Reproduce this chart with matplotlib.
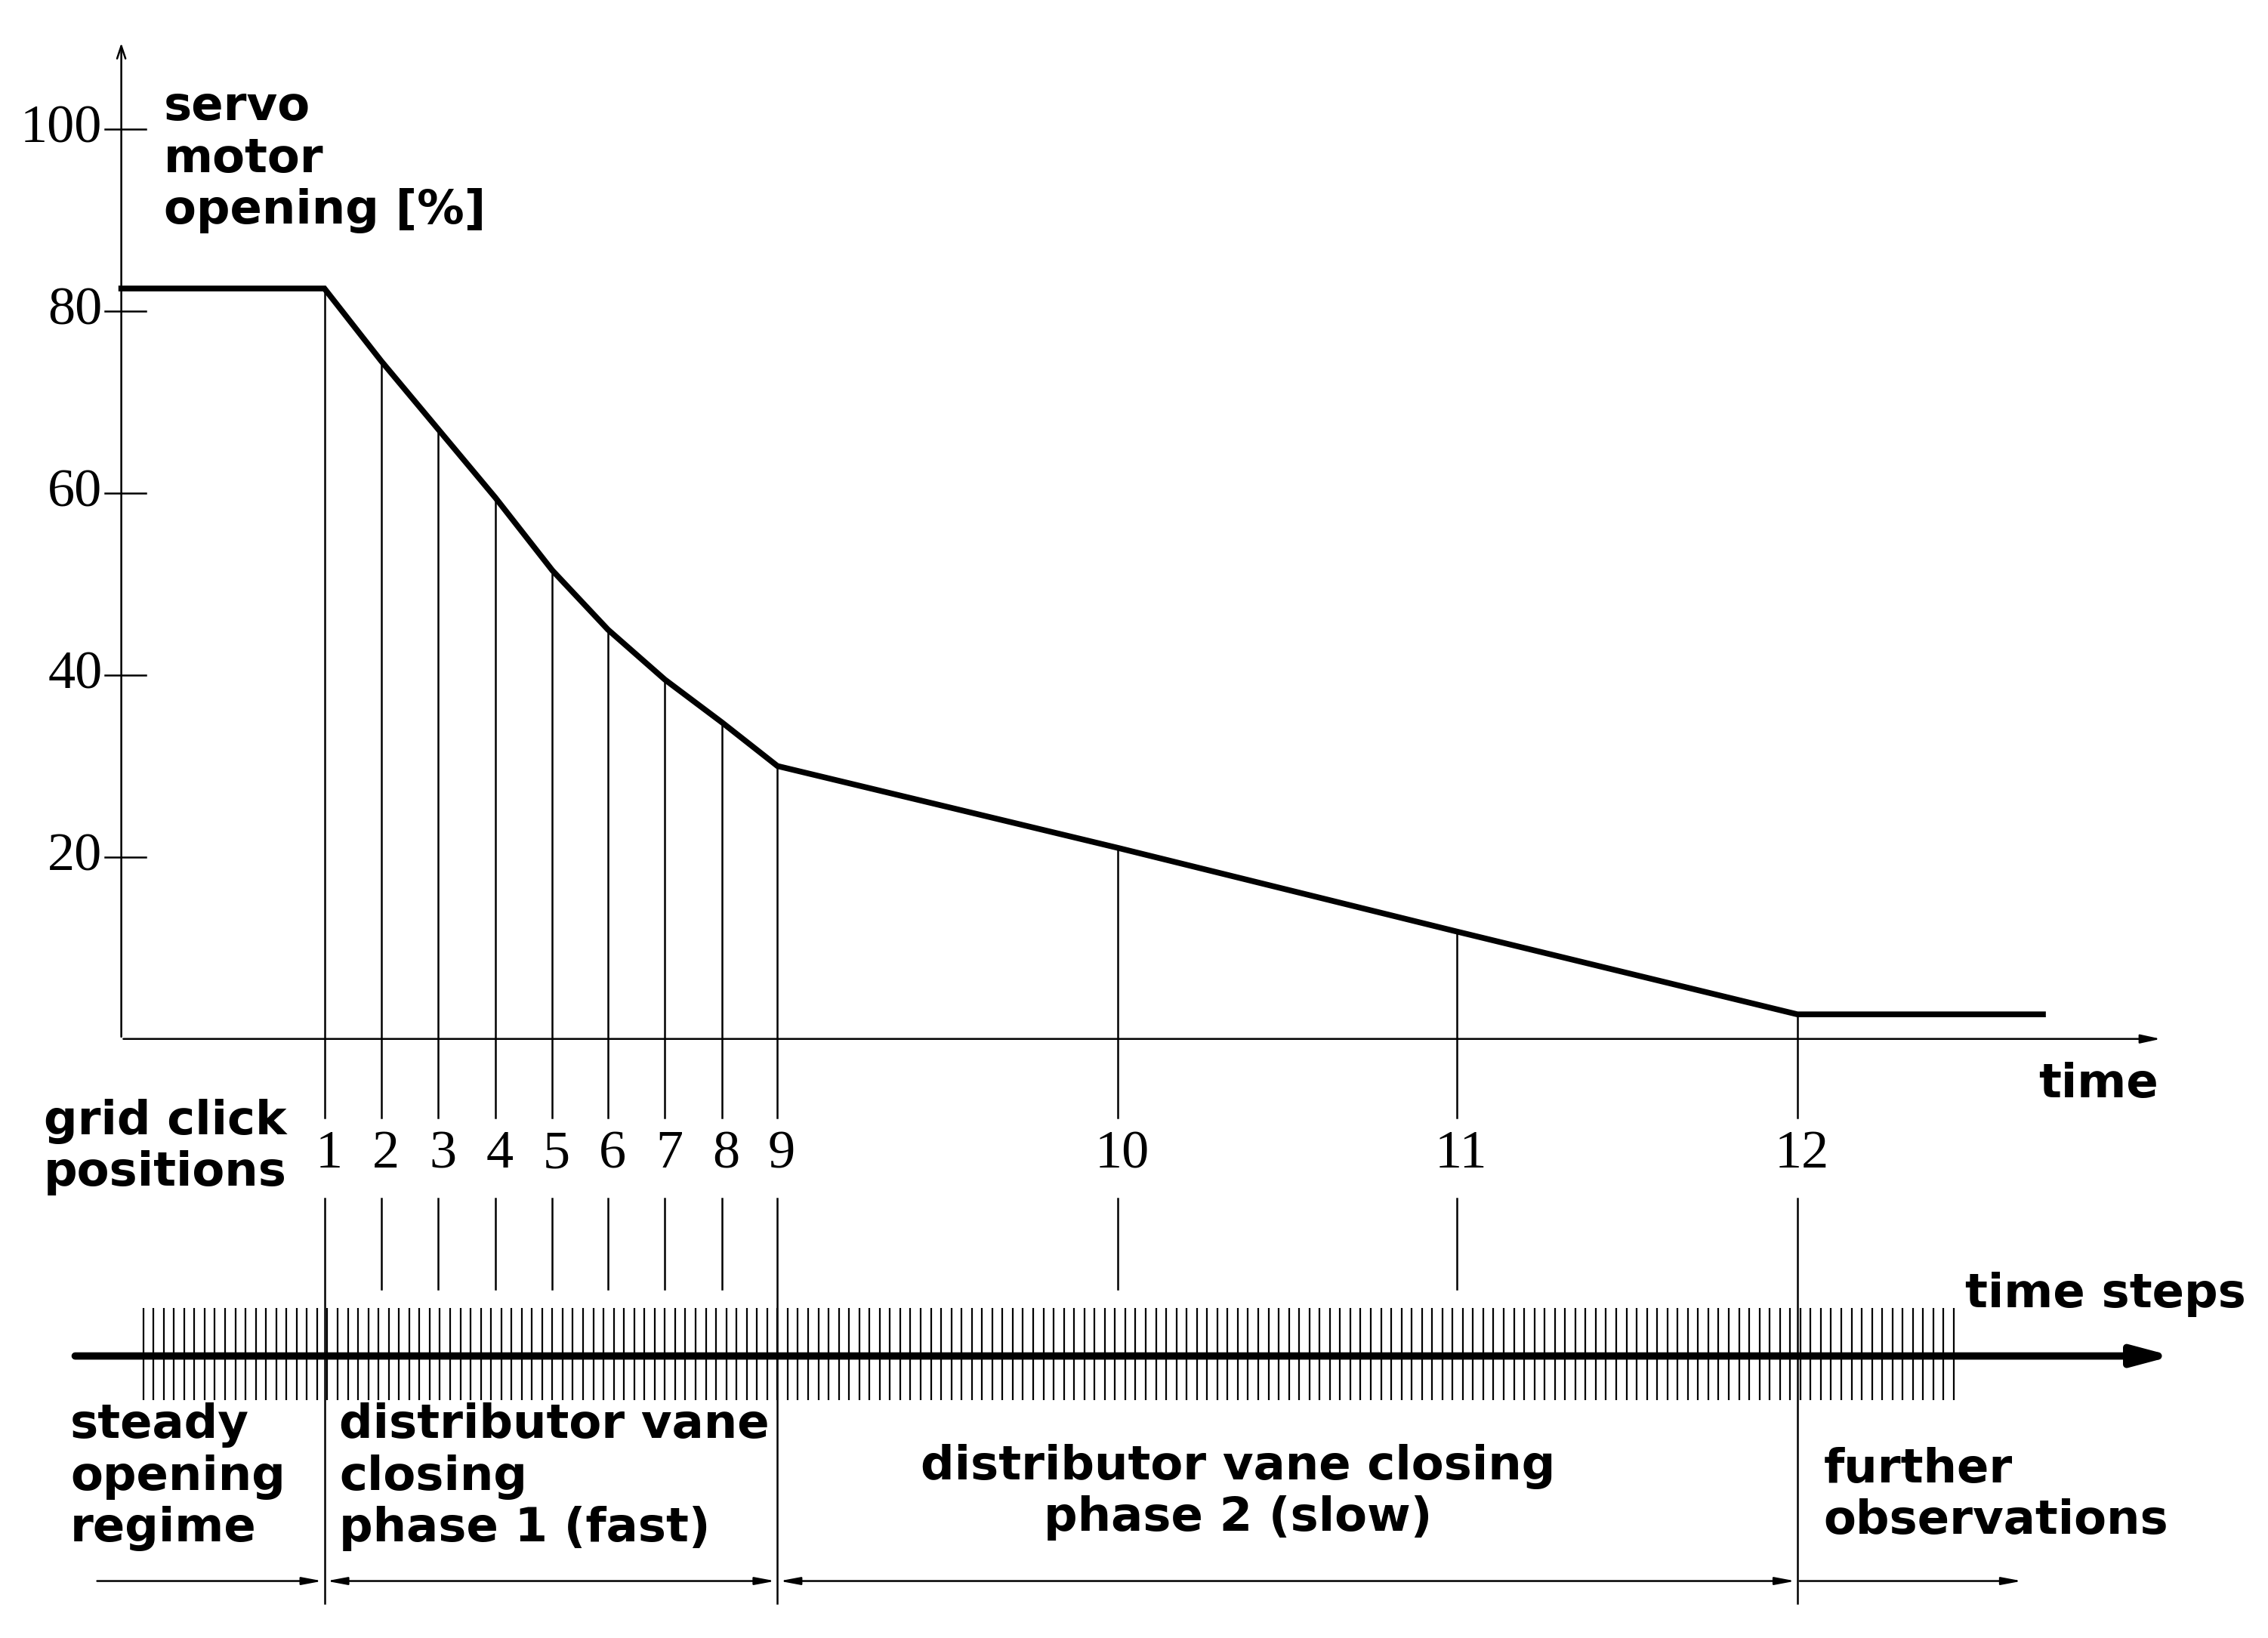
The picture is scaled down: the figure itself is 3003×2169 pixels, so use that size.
import matplotlib
matplotlib.use("Agg")
import matplotlib.pyplot as plt
import numpy as np

# curve: time (pixel-like units) vs servo opening [%]
curve_t = [83, 222, 261, 300, 339, 378, 416, 455, 494, 532, 765, 997, 1230, 1398]
curve_v = [82.5, 82.5, 74.5, 67.0, 59.5, 51.5, 45.0, 39.5, 34.8, 30.0, 21.0, 11.8, 2.7, 2.7]
click_labels = ["1", "2", "3", "4", "5", "6", "7", "8", "9", "10", "11", "12"]
yticks = [20, 40, 60, 80, 100]

SCALE = 6.225
Y0 = 711


def Y(py):
    """pixel row of the reference layout -> value units"""
    return (Y0 - py) / SCALE


fig = plt.figure(figsize=(30.03, 21.69), dpi=100)
ax = fig.add_axes([0, 0, 1, 1])
ax.set_xlim(0, 1552)
ax.set_ylim(Y(1121), Y(0))
ax.axis("off")

serif = "Liberation Serif"
sans = "DejaVu Sans"
lw_thin = 1.8

# axes
ax.annotate("", xy=(83, Y(28)), xytext=(83, 0),
            arrowprops=dict(arrowstyle="->,head_length=1.2,head_width=0.4", lw=lw_thin, color="black"))
ax.annotate("", xy=(1480, 0), xytext=(83, 0),
            arrowprops=dict(arrowstyle="-|>,head_length=1.6,head_width=0.35", lw=lw_thin, color="black"))
for v in yticks:
    ax.plot([72, 100], [v, v], color="black", lw=lw_thin)
    ax.text(70, v, str(v), ha="right", va="center", fontsize=52, family=serif)

# curve
ax.plot(curve_t, curve_v, color="black", lw=5.5, solid_joinstyle="miter")

# click lines
clicks = curve_t[1:13]
for t, v, lab in zip(clicks, curve_v[1:13], click_labels):
    ax.plot([t, t], [v, Y(765)], color="black", lw=lw_thin)
    long = lab in ("1", "9", "12")
    ax.plot([t, t], [Y(820), Y(1097 if long else 882)], color="black", lw=lw_thin)
    ax.text(t + 3, Y(790), lab, ha="center", va="center", fontsize=52, family=serif)

# time steps axis
ax.annotate("", xy=(1488, Y(928)), xytext=(50, Y(928)),
            arrowprops=dict(arrowstyle="-|>,head_length=3.0,head_width=0.8", lw=7, color="black"))
steps = np.arange(98, 1340, 7)
ax.vlines(steps, Y(958), Y(895), color="black", lw=1.6)

# phase arrows
arr = dict(lw=lw_thin, color="black")
ax.annotate("", xy=(222, Y(1082)), xytext=(65, Y(1082)),
            arrowprops=dict(arrowstyle="-|>,head_length=1.6,head_width=0.3", **arr))
ax.annotate("", xy=(532, Y(1082)), xytext=(222, Y(1082)),
            arrowprops=dict(arrowstyle="<|-|>,head_length=1.6,head_width=0.3", **arr))
ax.annotate("", xy=(1230, Y(1082)), xytext=(532, Y(1082)),
            arrowprops=dict(arrowstyle="<|-|>,head_length=1.6,head_width=0.3", **arr))
ax.annotate("", xy=(1385, Y(1082)), xytext=(1230, Y(1082)),
            arrowprops=dict(arrowstyle="-|>,head_length=1.6,head_width=0.3", **arr))

bold = dict(fontsize=45, family=sans, fontweight="bold", linespacing=1.18)
ax.text(112, Y(58), "servo\nmotor\nopening [%]", ha="left", va="top", **bold)
ax.text(1395, Y(742), "time", ha="left", va="center", **bold)
ax.text(30, Y(752), "grid click\npositions", ha="left", va="top", **bold)
ax.text(1345, Y(886), "time steps", ha="left", va="center", **bold)
ax.text(48, Y(960), "steady\nopening\nregime", ha="left", va="top", **bold)
ax.text(232, Y(960), "distributor vane\nclosing\nphase 1 (fast)", ha="left", va="top", **bold)
ax.text(847, Y(988), "distributor vane closing\nphase 2 (slow)", ha="center", va="top", **bold)
ax.text(1248, Y(990), "further\nobservations", ha="left", va="top", **bold)

fig.savefig("out.png", dpi=100)
